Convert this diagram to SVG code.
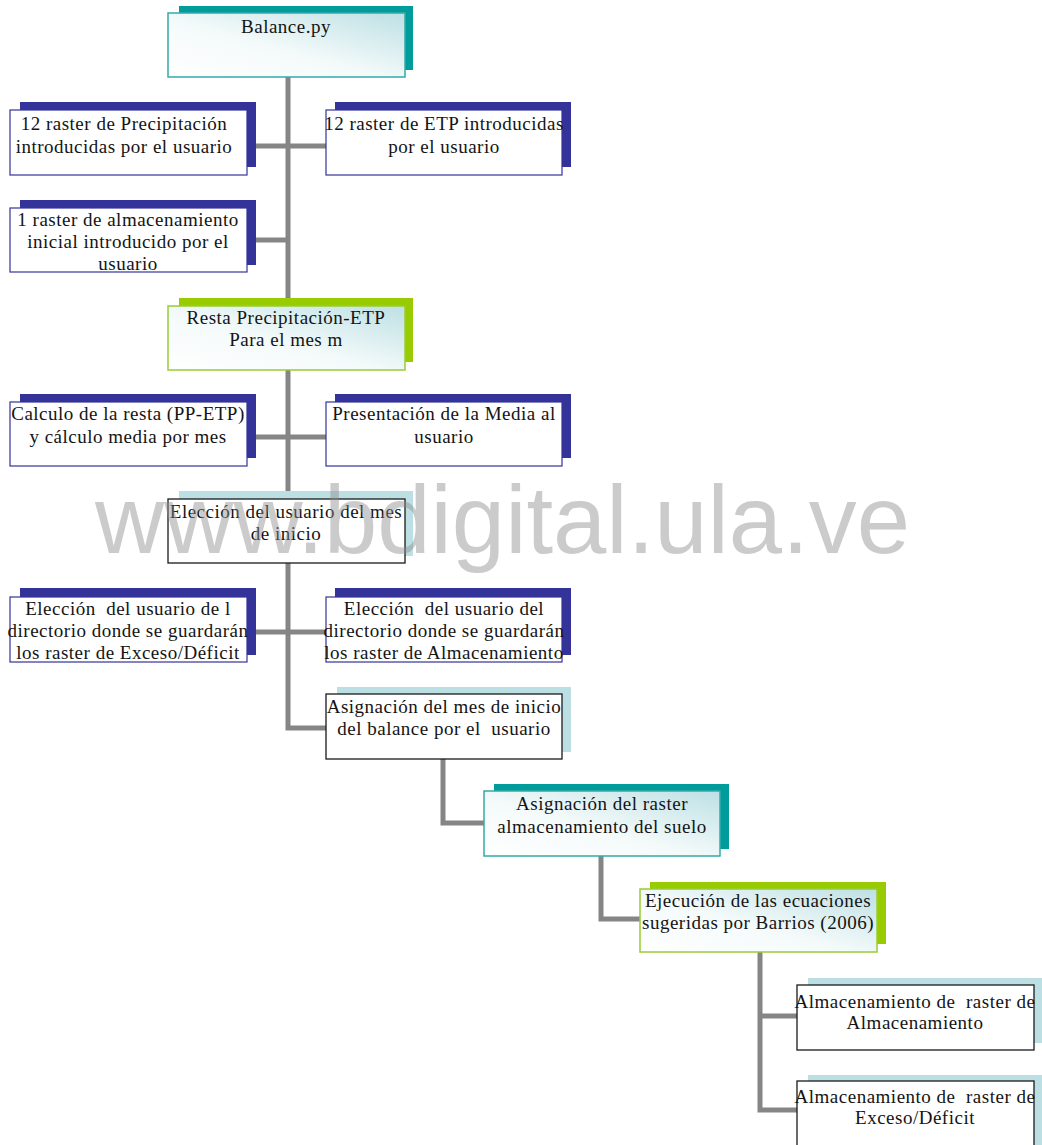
<svg xmlns="http://www.w3.org/2000/svg" width="1042" height="1145" viewBox="0 0 1042 1145">
<defs>
<linearGradient id="g" x1="0" y1="1" x2="1" y2="0">
<stop offset="0" stop-color="#ffffff"/>
<stop offset="0.45" stop-color="#f4fafa"/>
<stop offset="1" stop-color="#bde0e4"/>
</linearGradient>
<style>
.t{font-family:"Liberation Serif","Times New Roman",serif;font-size:19px;letter-spacing:0.5px;fill:#141414;text-anchor:middle;white-space:pre}
.sh-teal{fill:#009b9b}
.sh-navy{fill:#333399}
.sh-green{fill:#99cc00}
.sh-light{fill:#bcdfe3}
.f-teal{fill:url(#g);stroke:#33aaaa;stroke-width:1.5}
.f-navy{fill:#ffffff;stroke:#333399;stroke-width:1.2}
.f-green{fill:url(#g);stroke:#99cc33;stroke-width:1.5}
.f-black{fill:#ffffff;stroke:#1a1a1a;stroke-width:1.3}
.c{fill:none;stroke:#858585;stroke-width:5}
.wm{font-family:"Liberation Sans",Arial,sans-serif;font-size:96px;fill:#8c8c8c;fill-opacity:0.45}
</style>
</defs>
<rect width="1042" height="1145" fill="#ffffff"/>
<g id="connectors">
<path class="c" d="M288 77 V728 H326"/>
<path class="c" d="M247 146 H326"/>
<path class="c" d="M247 240 H288"/>
<path class="c" d="M247 437 H326"/>
<path class="c" d="M247 632 H326"/>
<path class="c" d="M443 759 V823 H484"/>
<path class="c" d="M601 856 V919 H640"/>
<path class="c" d="M760 952 V1110 H797"/>
<path class="c" d="M760 1016 H797"/>
</g>
<g id="n-balance">
<rect class="sh-teal" x="179" y="6" width="234" height="64"/>
<rect class="f-teal" x="168" y="13" width="237" height="64"/>
<text class="t" x="286" y="33">Balance.py</text>
</g>
<g id="n-prec">
<rect class="sh-navy" x="20" y="102" width="236" height="65"/>
<rect class="f-navy" x="10" y="110" width="237" height="65"/>
<text class="t" x="124" y="130">12 raster de Precipitación</text>
<text class="t" x="124" y="153">introducidas por el usuario</text>
</g>
<g id="n-etp">
<rect class="sh-navy" x="335" y="102" width="236" height="65"/>
<rect class="f-navy" x="326" y="110" width="236" height="65"/>
<text class="t" x="444" y="130">12 raster de ETP introducidas</text>
<text class="t" x="444" y="153">por el usuario</text>
</g>
<g id="n-almac-ini">
<rect class="sh-navy" x="20" y="200" width="236" height="65"/>
<rect class="f-navy" x="10" y="208" width="237" height="64"/>
<text class="t" x="128" y="226">1 raster de almacenamiento</text>
<text class="t" x="128" y="248">inicial introducido por el</text>
<text class="t" x="128" y="270">usuario</text>
</g>
<g id="n-resta">
<rect class="sh-green" x="179" y="298" width="234" height="64"/>
<rect class="f-green" x="168" y="306" width="237" height="64"/>
<text class="t" x="286" y="324">Resta Precipitación-ETP</text>
<text class="t" x="286" y="346">Para el mes m</text>
</g>
<g id="n-calculo">
<rect class="sh-navy" x="20" y="394" width="236" height="64"/>
<rect class="f-navy" x="10" y="402" width="237" height="64"/>
<text class="t" x="128" y="420">Calculo de la resta (PP-ETP)</text>
<text class="t" x="128" y="443">y cálculo media por mes</text>
</g>
<g id="n-presentacion">
<rect class="sh-navy" x="335" y="394" width="236" height="64"/>
<rect class="f-navy" x="326" y="402" width="236" height="64"/>
<text class="t" x="444" y="420">Presentación de la Media al</text>
<text class="t" x="444" y="443">usuario</text>
</g>
<g id="n-eleccion-mes">
<rect class="sh-light" x="179" y="491" width="234" height="65"/>
<rect class="f-black" x="168" y="499" width="237" height="64"/>
<text class="t" x="286" y="518">Elección del usuario del mes</text>
<text class="t" x="286" y="540">de inicio</text>
</g>
<g id="n-dir-exceso">
<rect class="sh-navy" x="20" y="588" width="236" height="67"/>
<rect class="f-navy" x="10" y="597" width="237" height="65"/>
<text class="t" x="128" y="615">Elección  del usuario de l</text>
<text class="t" x="128" y="637">directorio donde se guardarán</text>
<text class="t" x="128" y="659">los raster de Exceso/Déficit</text>
</g>
<g id="n-dir-almac">
<rect class="sh-navy" x="335" y="588" width="236" height="67"/>
<rect class="f-navy" x="326" y="597" width="236" height="65"/>
<text class="t" x="444" y="615">Elección  del usuario del</text>
<text class="t" x="444" y="637">directorio donde se guardarán</text>
<text class="t" x="444" y="659">los raster de Almacenamiento</text>
</g>
<g id="n-asig-mes">
<rect class="sh-light" x="337" y="687" width="234" height="65"/>
<rect class="f-black" x="326" y="694" width="236" height="65"/>
<text class="t" x="444" y="713">Asignación del mes de inicio</text>
<text class="t" x="444" y="735">del balance por el  usuario</text>
</g>
<g id="n-asig-raster">
<rect class="sh-teal" x="494" y="784" width="235" height="65"/>
<rect class="f-teal" x="484" y="791" width="236" height="65"/>
<text class="t" x="602" y="810">Asignación del raster</text>
<text class="t" x="602" y="833">almacenamiento del suelo</text>
</g>
<g id="n-ejecucion">
<rect class="sh-green" x="650" y="882" width="236" height="62"/>
<rect class="f-green" x="640" y="889" width="237" height="63"/>
<text class="t" x="758" y="907">Ejecución de las ecuaciones</text>
<text class="t" x="758" y="929">sugeridas por Barrios (2006)</text>
</g>
<g id="n-out-almac">
<rect class="sh-light" x="808" y="978" width="234" height="65"/>
<rect class="f-black" x="797" y="985" width="237" height="65"/>
<text class="t" x="915" y="1008">Almacenamiento de  raster de</text>
<text class="t" x="915" y="1029">Almacenamiento</text>
</g>
<g id="n-out-exceso">
<rect class="sh-light" x="808" y="1075" width="234" height="70"/>
<rect class="f-black" x="797" y="1081" width="237" height="70"/>
<text class="t" x="915" y="1103">Almacenamiento de  raster de</text>
<text class="t" x="915" y="1124">Exceso/Déficit</text>
</g>
<text class="wm" x="95" y="553" textLength="815" lengthAdjust="spacingAndGlyphs">www.bdigital.ula.ve</text>
</svg>
